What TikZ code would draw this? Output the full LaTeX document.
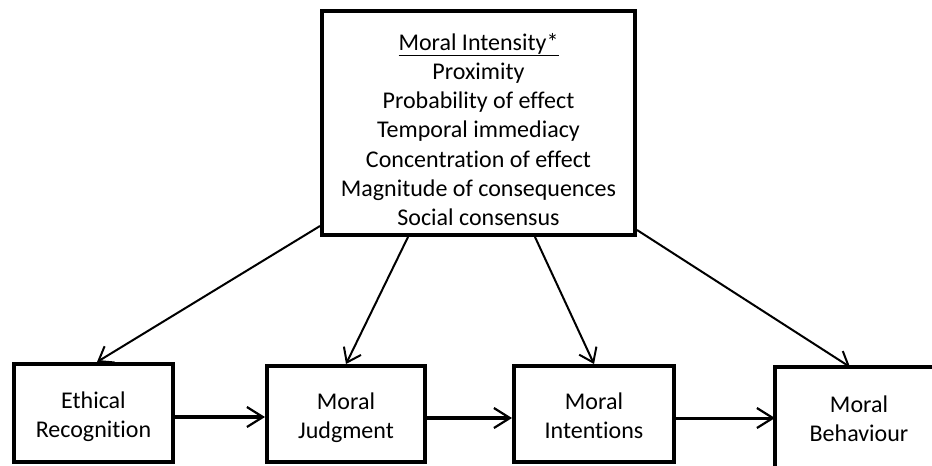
\documentclass[tikz,border=0pt]{standalone}
\usepackage{fontspec}
\setmainfont{Carlito}[Ligatures=NoCommon]
\usetikzlibrary{arrows.meta}
\newcommand{\topstrut}{\rule{0pt}{27pt}}
\newcommand{\botstrut}{\rule[-7pt]{0pt}{7pt}}
\tikzset{
  box/.style={draw=black, line width=4pt, fill=white, align=center, inner sep=0pt,
    font=\fontsize{24}{28.5}\selectfont},
  openbox/.style={box, draw=none, fill=none},
  edge4/.style={line width=4pt, line join=miter},
  arr/.style={line width=2pt, -{Straight Barb[length=13pt,width=19pt,line width=2pt]}},
  harr/.style={line width=3.5pt, -{Straight Barb[length=16pt,width=20pt,line width=2.2pt]}},
}
\begin{document}
\begin{tikzpicture}[x=1pt,y=-1pt]
\useasboundingbox (0,0) rectangle (932,466);
\fill[white] (0,0) rectangle (932,466);
\node[box, minimum width=313pt, minimum height=224pt, font=\fontsize{24}{29.3}\selectfont] (top) at (478.5,123)
  {\rule{0pt}{30pt}\underline{Moral Intensity*}\\Proximity\\Probability of effect\\Temporal immediacy\\Concentration of effect\\Magnitude of consequences\\Social consensus};
\node[box, minimum width=159pt, minimum height=98pt] (er) at (93.5,413) {\topstrut Ethical\\Recognition\botstrut};
\node[box, minimum width=158pt, minimum height=96pt] (mj) at (346,414) {\topstrut Moral\\Judgment\botstrut};
\node[box, minimum width=160pt, minimum height=96pt] (mi) at (594,414) {\topstrut Moral\\Intentions\botstrut};
\node[openbox, minimum width=164pt, minimum height=96pt] (mb) at (859,417) {\topstrut Moral\\Behaviour\botstrut};
\draw[edge4] ([yshift=-10pt]mb.south west) -- (mb.north west) -- ([xshift=8pt]mb.north east);

\draw[arr] ([yshift=11pt]top.south west) -- ([xshift=3.5pt]er.north);
\draw[arr] ([xshift=88pt]top.south west) -- (mj.north);
\draw[arr] ([xshift=215pt]top.south west) -- (mi.north);
\draw[arr] ([yshift=7pt]top.south east) -- ([xshift=75pt]mb.north west);

\draw[harr] ([yshift=-4pt]er.east) -- ([yshift=-4pt]er.east -| mj.west);
\draw[harr] ([yshift=-4pt]mj.east) -- ([yshift=-4pt]mj.east -| mi.west);
\draw[harr, line width=3pt] ([yshift=-4pt]mi.east) -- ([yshift=-4pt]mi.east -| mb.west);
\end{tikzpicture}
\end{document}
